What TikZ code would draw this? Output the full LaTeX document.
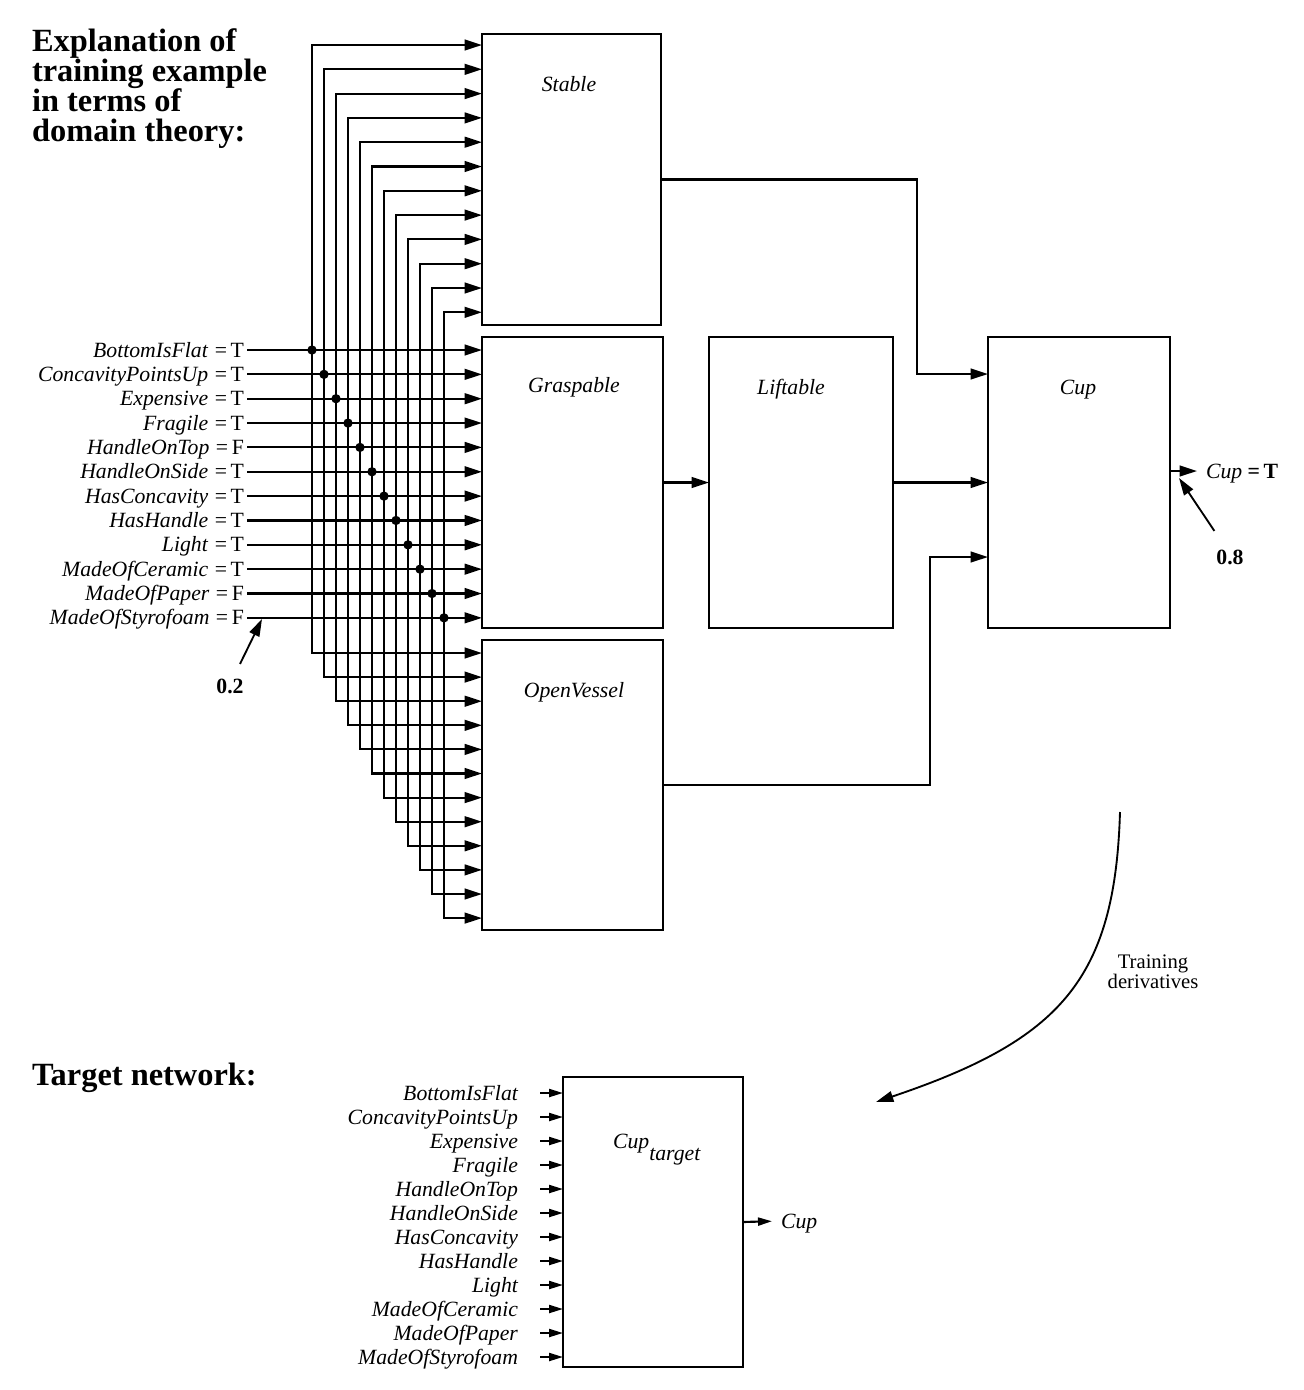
\documentclass[tikz,border=0pt]{standalone}
\usepackage{fontspec}
\setmainfont{Liberation Serif}
\usetikzlibrary{arrows.meta,calc}
\begin{document}
\begin{tikzpicture}[x=0.75pt,y=-0.75pt,
  line width=1.6pt,
  box/.style={draw, line width=1.5pt, inner sep=0pt, outer sep=0pt, anchor=north west},
  txt/.style={font=\fontsize{16.3}{17}\selectfont, text height=10.5pt, text depth=0pt, inner sep=0pt},
  ital/.style={txt, font=\fontsize{16.3}{17}\selectfont\itshape},
  bold/.style={txt, font=\fontsize{16.3}{17}\selectfont\bfseries},
  ttl/.style={inner sep=0pt, align=left, font=\fontsize{24.3}{22.5}\selectfont\bfseries},
  arr/.style={-{Triangle[length=13pt,width=8pt]}},
  arrs/.style={-{Triangle[length=10.5pt,width=6pt]}},
  dblarr/.style={{Triangle[length=13pt,width=8pt]}-{Triangle[length=13pt,width=8pt]}},
  dot/.style={circle, fill, inner sep=0pt, minimum size=7pt}
]
\useasboundingbox (0,0) rectangle (1304,1390);

% titles
\node[ttl, anchor=north west] (title) at (31,28) {Explanation of\\training example\\in terms of\\domain theory:};
\node[ttl, anchor=base west] (tn) at (31,1085) {Target network:};

% boxes
\node[box, minimum width=179*0.75pt, minimum height=291*0.75pt] (S) at (482,34) {};
\node[box, minimum width=181*0.75pt, minimum height=291*0.75pt] (G) at (482,337) {};
\node[box, minimum width=181*0.75pt, minimum height=290*0.75pt] (O) at (482,640) {};
\node[box, minimum width=184*0.75pt, minimum height=291*0.75pt] (L) at (709,337) {};
\node[box, minimum width=182*0.75pt, minimum height=291*0.75pt] (C) at (988,337) {};
\node[box, minimum width=180*0.75pt, minimum height=290*0.75pt] (T) at (563,1077) {};

% box labels
\node[ital] (Sl) at (569,84) {Stable};
\node[ital] (Gl) at (574,385) {Graspable};
\node[ital] (Ol) at (574,690) {OpenVessel};
\node[ital] (Ll) at (791,387) {Liftable};
\node[ital] (Cl) at (1078,387) {Cup};
\node[txt, anchor=west] (Tl) at (612,1141) {\itshape Cup\raisebox{-9pt}{target}};

% inputs of the explanation network
\foreach \n/\v [count=\i from 0] in {BottomIsFlat/T, ConcavityPointsUp/T, Expensive/T, Fragile/T, HandleOnTop/F, HandleOnSide/T, HasConcavity/T, HasHandle/T, Light/T, MadeOfCeramic/T, MadeOfPaper/F, MadeOfStyrofoam/F} {
  \pgfmathsetmacro\yin{350+24.35*\i}
  \pgfmathsetmacro\xv{312+12*\i}
  \pgfmathsetmacro\ys{45+24.3*\i}
  \pgfmathsetmacro\yo{653+24.1*\i}
  \node[txt, anchor=east] (in\i) at (245,\yin) {\textit{\n}\hspace{0.3em}=\,\v};
  \coordinate (s\i) at (\xv,\ys);
  \coordinate (o\i) at (\xv,\yo);
  \coordinate (d\i) at (\xv,\yin);
}
\foreach \i in {0,...,11} {
  \draw[dblarr] (s\i -| S.west) -- (s\i) -- (o\i) -- (o\i -| O.west);
  \draw[arr] ([xshift=1.5pt]in\i.east) -- (in\i.east -| G.west);
  \node[dot] (dot\i) at (d\i) {};
}

% connections between units
\coordinate (sc) at (917,374);
\draw[arr] (S.east) -| (sc) -- (sc -| C.west);
\draw[arr] (G.east) -- (L.west);
\draw[arr] (L.east) -- (C.west);
\coordinate (oc) at (930,557);
\draw[arr] (O.east) -| (oc) -- (oc -| C.west);

% output
\node[txt, anchor=west] (cupout) at (1205,471) {\textit{Cup} \textbf{=\,T}};
\draw[arr, shorten >=6pt] (cupout.west -| C.east) -- (cupout.west);

% 0.8 and 0.2
\node[bold] (p08) at (1230,557) {0.8};
\coordinate (t08) at (1179,478);
\draw[arr, line width=1.4pt] ($(p08.north west)+(-1,-18)$) -- (t08);
\node[bold] (p02) at (230,686) {0.2};
\coordinate (t02) at (262,619);
\draw[arr, line width=1.4pt] ($(p02.north)+(10,-14)$) -- (t02);

% training derivatives
\node[align=center, inner sep=0pt, font=\fontsize{15.5}{15}\selectfont] (td) at (1153,972) {Training\\derivatives};
\coordinate (cs) at (1120,812);
\coordinate (ce) at (876,1102);
\draw[arr, line width=1.4pt] (cs) .. controls (1115,980) and (1060,1040) .. (ce);

% target network inputs
\foreach \n [count=\i from 0] in {BottomIsFlat, ConcavityPointsUp, Expensive, Fragile, HandleOnTop, HandleOnSide, HasConcavity, HasHandle, Light, MadeOfCeramic, MadeOfPaper, MadeOfStyrofoam} {
  \pgfmathsetmacro\yt{1093+24.0*\i}
  \node[ital, anchor=east] (ti\i) at (519,\yt) {\n};
  \draw[arrs] ($(ti\i.east)+(21,0)$) -- (ti\i.east -| T.west);
}
\node[ital, anchor=west] (tout) at (780,1221) {Cup};
\draw[arrs, shorten >=6pt] (T.east) -- (tout.west);
\end{tikzpicture}
\end{document}
